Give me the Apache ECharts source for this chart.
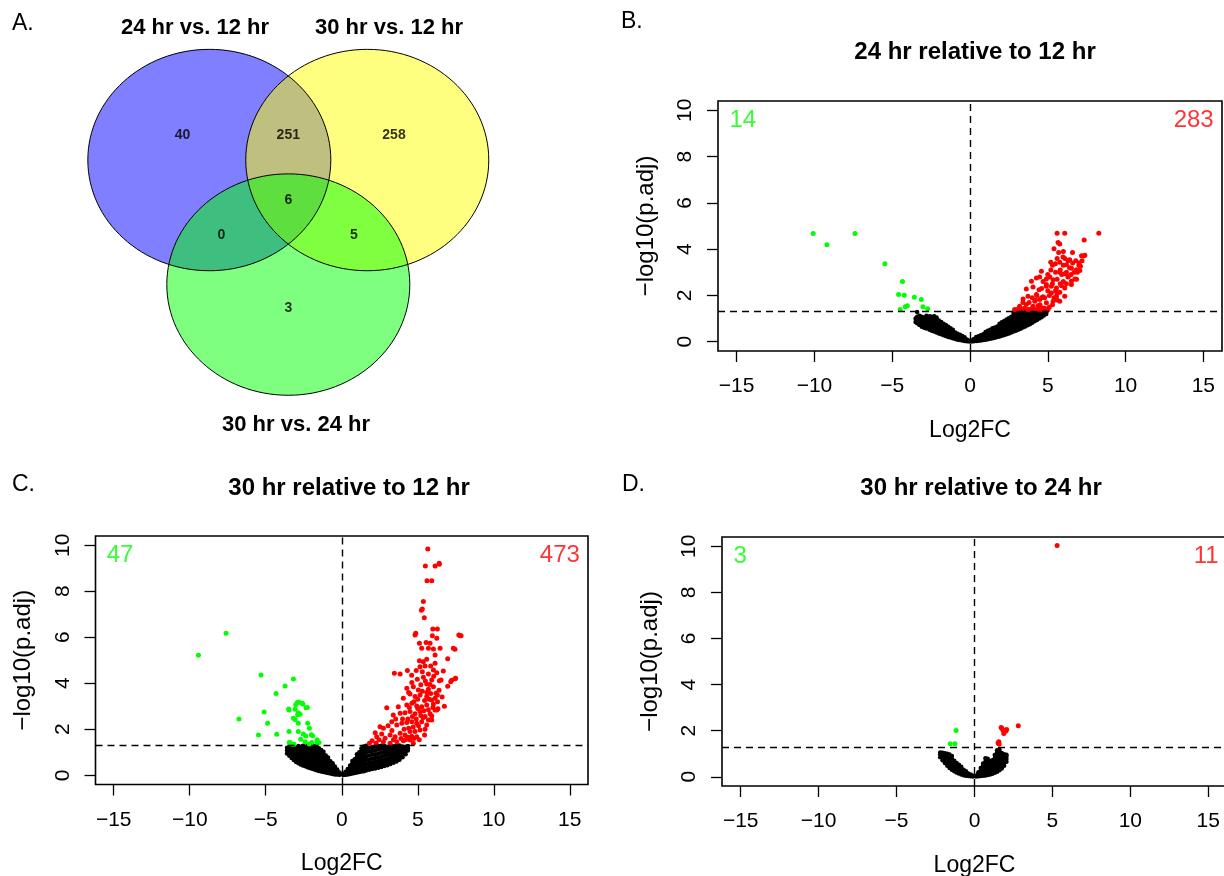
<!DOCTYPE html>
<html>
<head>
<meta charset="utf-8">
<title>Venn + volcano plots</title>
<script src="https://cdn.jsdelivr.net/npm/echarts@6/dist/echarts.min.js"></script>
<style>
    html, body { margin: 0; padding: 0; background: #fff; }
    #chart { width: 1224px; height: 876px; }
</style>
</head>
<body>
<div id="chart"></div>
<script>
// ---- Venn (panel A) ----
const vennSets = ['24 hr vs. 12 hr', '30 hr vs. 12 hr', '30 hr vs. 24 hr'];
// centre x, centre y, radius (venn units)
const vennCircles = [[-0.65, 0.375, 1], [0.65, 0.375, 1], [0, -0.75, 1]];
const vennCounts = [40, 251, 258, 6, 0, 5, 3];
const vennCountAt = [[-0.87, 0.6], [0, 0.6], [0.87, 0.6], [0, 0.01], [-0.55, -0.3], [0.54, -0.3], [0, -0.96]];

// ---- volcano plots ----
const xTicks = [-15, -10, -5, 0, 5, 10, 15];
const yTicks = [0, 2, 4, 6, 8, 10];
const pCut = 1.301; // -log10(0.05)
const countX = [-15.5, 15.7];
const countY = 9.57;

// B: 24 hr relative to 12 hr
const downB = [[-10.08, 4.68], [-9.2, 4.19], [-7.39, 4.68], [-5.47, 3.37], [-4.34, 2.6], [-4.59, 2.04], [-4.23, 2.01],
    [-3.58, 1.92], [-3.13, 1.82], [-4.49, 1.39], [-4.16, 1.51], [-4.03, 1.56], [-3.03, 1.51], [-2.72, 1.42]];
const upB = [[5.6, 4.69], [6.09, 4.69], [8.28, 4.69], [5.66, 4.29], [5.77, 4.22], [7.34, 4.4], [5.4, 4.02], [5.98, 3.66],
    [6.59, 3.86], [7.17, 3.72], [7.38, 3.74], [6.41, 3.54], [5.19, 3.43], [5.49, 3.37], [5.77, 3.43], [6.2, 3.33],
    [7.01, 3.4], [7.1, 3.26], [4.59, 3.04], [6.52, 3.18], [6.84, 3.11], [7.06, 3.08], [5.77, 3.0], [6.09, 2.94],
    [4.27, 2.75], [4.48, 2.8], [4.91, 2.71], [5.13, 2.8], [5.34, 2.68], [3.95, 2.61], [6.31, 2.82], [6.52, 2.61],
    [6.74, 2.71], [3.62, 2.28], [4.05, 2.37], [4.44, 2.25], [6.52, 2.47], [4.91, 2.47], [5.23, 2.4], [5.56, 2.32],
    [5.88, 2.42], [6.09, 2.32], [3.73, 1.96], [4.27, 2.04], [4.69, 1.94], [5.23, 2.11], [5.56, 1.96], [5.77, 2.14],
    [6.09, 1.96], [3.41, 1.85], [4.16, 1.75], [4.48, 1.82], [4.91, 1.68], [5.34, 1.75], [5.77, 1.75], [3.19, 1.53],
    [3.62, 1.61], [4.05, 1.53], [4.37, 1.56], [4.69, 1.46], [2.87, 1.39], [3.3, 1.39], [3.73, 1.39], [4.16, 1.39],
    [4.59, 1.39], [5.02, 1.39], [4.5, 1.6], [4.8, 1.9], [5.0, 2.2], [5.3, 2.5], [5.6, 2.7], [5.9, 2.9], [6.2, 3.0],
    [6.4, 3.2], [6.6, 3.4], [6.8, 3.5], [5.5, 2.2], [5.8, 2.5], [6.0, 2.6], [6.3, 2.8], [6.7, 3.0], [7.0, 3.3],
    [6.9, 3.0], [4.0, 1.9], [4.3, 2.0], [4.6, 2.3], [4.7, 2.6], [5.0, 2.9], [5.2, 3.1], [5.5, 3.0], [5.8, 3.1],
    [6.0, 3.3], [6.3, 3.5], [6.0, 3.9], [5.6, 3.6], [5.3, 3.3], [4.9, 2.4], [5.1, 2.0], [5.4, 1.9], [5.6, 2.1],
    [4.4, 1.4], [4.8, 1.45], [5.1, 1.5], [5.3, 1.6], [5.6, 1.8], [3.9, 1.4], [3.5, 1.45], [3.1, 1.42], [3.4, 1.7],
    [3.8, 1.7], [4.2, 1.8], [4.6, 1.9], [6.2, 2.5], [6.5, 2.9], [6.85, 2.7], [7.2, 3.5], [7.3, 3.7], [6.1, 3.6], [5.7, 3.85]];
// not significant, listed per Log2FC column: [x, [y...]]
const nsB = [
    [-3.5, [0.85, 1.0]], [-3.4, [0.8, 0.95, 1.08, 1.28]], [-3.25, [0.72, 0.88, 1.02, 1.12]], [-3.1, [0.65, 0.8, 0.95, 1.08]],
    [-2.95, [0.6, 0.75, 0.9, 1.05]], [-2.8, [0.57, 0.72, 0.87, 1.02, 1.12]], [-2.6, [0.52, 0.67, 0.82, 0.97, 1.1]],
    [-2.45, [0.47, 0.62, 0.78, 0.93, 1.08]], [-2.3, [0.44, 0.58, 0.72, 0.86, 1.0, 1.1]], [-2.15, [0.4, 0.54, 0.68, 0.82, 0.97, 1.05]],
    [-2.0, [0.36, 0.5, 0.64, 0.78, 0.92]], [-1.85, [0.32, 0.45, 0.58, 0.72, 0.85]], [-1.7, [0.28, 0.4, 0.52, 0.65, 0.78]],
    [-1.55, [0.25, 0.36, 0.48, 0.6, 0.72]], [-1.4, [0.21, 0.32, 0.43, 0.55, 0.65]], [-1.25, [0.18, 0.28, 0.38, 0.5, 0.58]],
    [-1.1, [0.15, 0.24, 0.34, 0.44, 0.52]], [-0.95, [0.12, 0.2, 0.3, 0.4]], [-0.8, [0.09, 0.17, 0.26, 0.35]],
    [-0.65, [0.07, 0.14, 0.22, 0.3]], [-0.5, [0.05, 0.11, 0.18, 0.25]], [-0.35, [0.03, 0.08, 0.14, 0.19]],
    [-0.2, [0.02, 0.06, 0.1]], [-0.05, [0.01, 0.04]],
    [0.1, [0.01, 0.05]], [0.25, [0.02, 0.07, 0.12]], [0.4, [0.03, 0.09, 0.15, 0.2]], [0.55, [0.04, 0.1, 0.17, 0.24]],
    [0.7, [0.05, 0.12, 0.2, 0.28]], [0.85, [0.07, 0.15, 0.23, 0.32]], [1.0, [0.09, 0.17, 0.26, 0.36, 0.42]],
    [1.15, [0.11, 0.2, 0.29, 0.38, 0.47]], [1.3, [0.13, 0.22, 0.32, 0.42, 0.52]], [1.45, [0.15, 0.25, 0.35, 0.46, 0.58]],
    [1.6, [0.17, 0.28, 0.39, 0.5, 0.62]], [1.75, [0.2, 0.31, 0.42, 0.54, 0.66]], [1.9, [0.23, 0.34, 0.46, 0.58, 0.7, 0.78]],
    [2.05, [0.26, 0.38, 0.5, 0.62, 0.74, 0.84]], [2.2, [0.29, 0.41, 0.53, 0.65, 0.78, 0.9]],
    [2.35, [0.32, 0.44, 0.57, 0.7, 0.83, 0.96]], [2.5, [0.36, 0.48, 0.61, 0.74, 0.88, 1.02]],
    [2.65, [0.4, 0.52, 0.65, 0.79, 0.93, 1.08]], [2.8, [0.44, 0.56, 0.69, 0.83, 0.98, 1.14, 1.26]],
    [2.95, [0.48, 0.6, 0.73, 0.87, 1.02, 1.17, 1.28]], [3.1, [0.52, 0.64, 0.77, 0.91, 1.05, 1.2, 1.29]],
    [3.25, [0.56, 0.68, 0.81, 0.95, 1.09, 1.22]], [3.4, [0.61, 0.73, 0.86, 0.99, 1.12, 1.25]],
    [3.55, [0.66, 0.78, 0.9, 1.03, 1.16, 1.28]], [3.7, [0.71, 0.83, 0.95, 1.07, 1.19, 1.29]],
    [3.85, [0.76, 0.88, 1.0, 1.12, 1.23]], [4.0, [0.82, 0.94, 1.05, 1.16, 1.27]], [4.15, [0.88, 0.99, 1.1, 1.2, 1.29]],
    [4.3, [0.94, 1.04, 1.14, 1.24]], [4.45, [1.0, 1.1, 1.2, 1.28]], [4.6, [1.06, 1.16, 1.26]],
    [4.75, [1.13, 1.22, 1.29]], [4.9, [1.2, 1.27]]
];

// C: 30 hr relative to 12 hr
const downC = [[-7.61, 6.17], [-9.43, 5.22], [-5.31, 4.36], [-3.18, 4.19], [-3.73, 3.88], [-4.32, 3.56], [-6.76, 2.45],
    [-5.11, 2.75], [-4.88, 2.26], [-5.48, 1.75], [-4.28, 1.78], [-2.92, 3.16], [-2.59, 3.13], [-2.35, 2.94],
    [-3.07, 2.87], [-2.86, 2.72], [-2.74, 2.65], [-3.47, 2.84], [-3.18, 2.48], [-3.07, 2.43], [-2.86, 2.26],
    [-2.24, 2.26], [-2.13, 2.04], [-3.47, 1.9], [-2.86, 1.9], [-2.53, 1.8], [-2.37, 1.71], [-1.91, 1.72],
    [-2.7, 1.57], [-2.41, 1.46], [-3.4, 1.42], [-3.14, 1.35], [-1.97, 1.42], [-1.64, 1.46], [-2.13, 1.36],
    [-1.59, 1.39], [-3.46, 1.42], [-3.28, 1.35], [-2.0, 1.76], [-1.62, 1.54], [-1.49, 1.42], [-2.82, 3.18],
    [-2.56, 3.1], [-3.03, 3.07], [-2.26, 2.95], [-3.49, 2.88], [-2.9, 2.63]];
const upC = [[5.66, 9.83], [5.5, 9.1], [6.14, 9.1], [6.42, 9.17], [5.61, 8.46], [5.92, 8.46], [5.37, 7.55], [5.3, 7.23],
    [5.24, 7.17], [5.43, 6.85], [4.87, 6.17], [4.82, 6.1], [5.99, 6.36], [6.29, 6.36], [6.25, 5.96], [5.96, 6.06],
    [7.78, 6.07], [7.7, 6.1], [7.85, 6.06], [5.11, 5.74], [5.55, 5.77], [5.26, 5.52], [6.03, 5.49], [6.47, 5.52],
    [6.14, 5.23], [5.81, 5.74], [5.7, 5.52], [7.34, 5.52], [7.45, 5.48], [6.97, 5.06], [5.11, 4.98], [5.37, 4.93],
    [5.59, 5.04], [5.15, 4.72], [5.48, 4.75], [6.14, 4.87], [6.03, 4.58], [5.7, 4.4], [6.25, 4.46], [6.68, 4.53],
    [3.46, 4.43], [3.84, 4.4], [4.32, 4.55], [7.17, 4.07], [7.45, 4.2], [4.61, 4.03], [4.97, 4.17], [5.37, 4.26],
    [5.2, 3.93], [5.59, 3.97], [5.92, 4.14], [6.42, 4.11], [6.53, 4.14], [4.28, 3.78], [4.71, 3.85], [5.04, 3.71],
    [5.7, 3.74], [6.03, 3.85], [6.2, 3.57], [4.49, 3.53], [4.82, 3.42], [5.15, 3.49], [5.59, 3.42], [5.92, 3.27],
    [6.14, 3.35], [6.29, 3.49], [3.72, 2.98], [4.28, 3.06], [4.61, 3.13], [4.93, 3.01], [5.26, 2.98], [5.59, 3.06],
    [6.03, 3.1], [2.96, 2.94], [3.39, 2.62], [3.84, 2.7], [4.16, 2.72], [4.49, 2.77], [4.82, 2.67], [5.15, 2.77],
    [5.48, 2.55], [5.81, 2.67], [6.14, 2.84], [6.25, 2.84], [5.92, 2.58], [2.52, 2.11], [2.74, 2.04], [3.29, 2.33],
    [3.62, 2.19], [3.95, 2.26], [4.28, 2.29], [4.61, 2.33], [4.93, 2.26], [5.26, 2.33], [5.59, 2.19], [5.92, 2.4],
    [2.3, 1.68], [2.63, 1.8], [2.85, 1.61], [3.18, 1.75], [3.51, 1.68], [3.84, 1.83], [4.16, 1.75], [4.49, 1.9],
    [4.82, 1.9], [5.15, 1.97], [5.48, 2.0], [1.82, 1.39], [2.26, 1.39], [2.74, 1.46], [3.18, 1.39], [3.62, 1.46],
    [4.05, 1.5], [4.49, 1.53], [4.71, 1.39], [4.93, 1.68], [6.41, 9.22], [7.23, 4.13], [7.49, 4.22], [6.33, 2.89],
    [6.97, 3.87], [3.9, 1.6], [4.2, 1.55], [4.35, 1.65], [4.6, 1.7], [4.75, 1.6], [4.1, 2.0], [4.4, 2.05], [4.7, 2.1],
    [4.9, 2.45], [5.05, 2.15], [5.35, 2.5], [5.2, 2.6], [4.65, 2.55], [4.35, 2.45], [4.0, 2.45], [5.0, 2.9],
    [5.4, 2.8], [5.7, 2.85], [5.75, 3.3], [5.45, 3.25], [5.3, 3.65], [5.0, 3.3], [4.75, 3.2], [5.6, 3.6], [5.85, 3.55],
    [5.5, 4.1], [5.8, 3.95], [6.05, 4.3], [5.3, 4.5], [5.85, 4.75], [4.45, 2.95], [3.55, 2.45], [3.3, 1.95],
    [3.05, 2.15], [5.7, 2.4], [6.0, 2.95], [6.3, 3.2], [6.4, 3.7], [6.6, 3.4], [6.75, 3.0], [5.45, 1.75], [5.1, 1.55],
    [2.45, 1.55], [2.0, 1.5], [3.4, 1.55], [2.2, 1.85], [4.05, 3.35], [4.4, 3.6], [4.9, 4.55], [4.6, 4.35]];
const nsC = [
    [-3.6, [0.95, 1.08, 1.2]], [-3.45, [0.85, 0.98, 1.1, 1.22]], [-3.3, [0.75, 0.88, 1.0, 1.12, 1.25]],
    [-3.15, [0.66, 0.79, 0.92, 1.05, 1.18, 1.28]], [-3.0, [0.58, 0.7, 0.83, 0.96, 1.09, 1.22]],
    [-2.85, [0.52, 0.64, 0.76, 0.89, 1.02, 1.15, 1.27]], [-2.7, [0.47, 0.59, 0.71, 0.84, 0.97, 1.1, 1.22]],
    [-2.55, [0.43, 0.54, 0.66, 0.78, 0.9, 1.03, 1.16, 1.28]], [-2.4, [0.39, 0.5, 0.62, 0.74, 0.86, 0.98, 1.1, 1.22]],
    [-2.25, [0.35, 0.46, 0.57, 0.69, 0.81, 0.93, 1.05, 1.18, 1.28]], [-2.1, [0.32, 0.42, 0.53, 0.64, 0.76, 0.88, 1.0, 1.12, 1.24]],
    [-1.95, [0.28, 0.38, 0.49, 0.6, 0.71, 0.83, 0.95, 1.07, 1.2]], [-1.8, [0.25, 0.35, 0.45, 0.55, 0.66, 0.78, 0.9, 1.02, 1.15, 1.27]],
    [-1.65, [0.22, 0.31, 0.41, 0.51, 0.62, 0.73, 0.85, 0.97, 1.1, 1.22]], [-1.5, [0.19, 0.28, 0.37, 0.47, 0.57, 0.68, 0.8, 0.92, 1.05, 1.18]],
    [-1.35, [0.16, 0.25, 0.34, 0.43, 0.53, 0.63, 0.74, 0.86, 0.98, 1.1]], [-1.2, [0.14, 0.22, 0.3, 0.39, 0.48, 0.58, 0.68, 0.8, 0.92, 1.02]],
    [-1.05, [0.12, 0.19, 0.27, 0.35, 0.44, 0.53, 0.63, 0.74, 0.86]], [-0.9, [0.1, 0.16, 0.24, 0.31, 0.39, 0.48, 0.58, 0.68, 0.77]],
    [-0.75, [0.08, 0.14, 0.2, 0.27, 0.35, 0.43, 0.52, 0.61]], [-0.6, [0.06, 0.11, 0.17, 0.23, 0.3, 0.37, 0.45, 0.52]],
    [-0.45, [0.04, 0.09, 0.14, 0.19, 0.25, 0.31, 0.38]], [-0.3, [0.03, 0.07, 0.11, 0.15, 0.2, 0.25]], [-0.15, [0.02, 0.05, 0.08, 0.12]],
    [0.1, [0.01, 0.06]], [0.25, [0.02, 0.08, 0.15]], [0.4, [0.04, 0.11, 0.19, 0.27]], [0.55, [0.06, 0.14, 0.23, 0.33, 0.43]],
    [0.7, [0.08, 0.17, 0.27, 0.38, 0.5, 0.62]], [0.85, [0.1, 0.2, 0.31, 0.43, 0.56, 0.7]],
    [1.0, [0.12, 0.23, 0.35, 0.48, 0.62, 0.78, 0.92]], [1.15, [0.14, 0.26, 0.39, 0.53, 0.68, 0.84, 1.0]],
    [1.3, [0.16, 0.29, 0.43, 0.58, 0.74, 0.9, 1.06, 1.18]], [1.45, [0.18, 0.32, 0.47, 0.63, 0.8, 0.97, 1.13, 1.25]],
    [1.6, [0.21, 0.35, 0.5, 0.66, 0.83, 1.0, 1.17, 1.28]], [1.8, [0.24, 0.38, 0.53, 0.69, 0.86, 1.03, 1.2]],
    [2.0, [0.27, 0.41, 0.56, 0.72, 0.89, 1.06, 1.22]], [2.2, [0.3, 0.44, 0.59, 0.75, 0.92, 1.09, 1.25]],
    [2.4, [0.33, 0.47, 0.62, 0.78, 0.95, 1.12, 1.27]], [2.6, [0.36, 0.5, 0.65, 0.81, 0.98, 1.15, 1.28]],
    [2.8, [0.4, 0.54, 0.69, 0.85, 1.01, 1.17, 1.28]], [3.0, [0.44, 0.58, 0.73, 0.89, 1.05, 1.2]],
    [3.2, [0.49, 0.63, 0.78, 0.93, 1.08, 1.23]], [3.4, [0.54, 0.68, 0.83, 0.98, 1.12, 1.26]],
    [3.6, [0.6, 0.74, 0.88, 1.02, 1.16, 1.28]], [3.8, [0.68, 0.81, 0.94, 1.07, 1.2, 1.29]],
    [4.0, [0.78, 0.9, 1.02, 1.14, 1.25]], [4.2, [0.92, 1.03, 1.14, 1.24]], [4.35, [1.08, 1.18, 1.27]]
];

// D: 30 hr relative to 24 hr
const downD = [[-1.18, 2.01], [-1.56, 1.43], [-1.26, 1.43]];
const upD = [[5.3, 10.03], [2.81, 2.21], [1.71, 2.14], [1.76, 2.1], [1.83, 2.02], [2.01, 1.99], [2.06, 2.05],
    [1.88, 1.88], [1.56, 1.52], [1.58, 1.42], [1.51, 1.47]];
const nsD = [
    [-2.2, [0.85, 0.98, 1.05]], [-2.05, [0.72, 0.85, 0.98, 1.04]], [-1.9, [0.6, 0.72, 0.85, 0.97, 1.02]],
    [-1.75, [0.48, 0.6, 0.72, 0.84, 0.95, 1.0]], [-1.6, [0.38, 0.5, 0.62, 0.74, 0.86, 0.97]],
    [-1.45, [0.3, 0.42, 0.54, 0.66, 0.78, 0.9]], [-1.3, [0.24, 0.35, 0.46, 0.58, 0.7]],
    [-1.15, [0.19, 0.29, 0.39, 0.5, 0.6]], [-1.0, [0.14, 0.23, 0.33, 0.43, 0.52]], [-0.85, [0.1, 0.18, 0.27, 0.36, 0.44]],
    [-0.7, [0.07, 0.14, 0.22, 0.3]], [-0.55, [0.05, 0.11, 0.18, 0.24]], [-0.4, [0.03, 0.08, 0.14]],
    [-0.25, [0.02, 0.06, 0.1]], [-0.1, [0.01, 0.04]],
    [0.1, [0.01, 0.05]], [0.25, [0.02, 0.07, 0.13, 0.2]], [0.4, [0.03, 0.09, 0.17, 0.27, 0.38]],
    [0.55, [0.04, 0.11, 0.2, 0.32, 0.46, 0.58]], [0.7, [0.06, 0.14, 0.24, 0.36, 0.5, 0.65, 0.8]],
    [0.85, [0.08, 0.17, 0.28, 0.4, 0.53, 0.66, 0.78]], [1.0, [0.1, 0.2, 0.32, 0.44, 0.56, 0.68]],
    [1.15, [0.13, 0.24, 0.36, 0.48, 0.6, 0.72]], [1.3, [0.17, 0.28, 0.4, 0.52, 0.65, 0.8, 0.95]],
    [1.45, [0.22, 0.33, 0.45, 0.58, 0.72, 0.88, 1.05, 1.15]], [1.6, [0.28, 0.4, 0.52, 0.66, 0.8, 0.95, 1.1, 1.18]],
    [1.75, [0.36, 0.48, 0.62, 0.76, 0.9, 1.03]], [1.9, [0.48, 0.6, 0.74, 0.88, 0.98]], [2.05, [0.65, 0.78, 0.9, 0.96]]
];

const countsB = [14, 283];
const countsC = [47, 473];
const countsD = [3, 11];

// columns -> [x, y] pairs
function flatCols(cols) {
    const out = [];
    cols.forEach(function (c) {
        c[1].forEach(function (y) { out.push([c[0], y]); });
    });
    return out;
}

const FONT = '"Liberation Sans", Arial, Helvetica, sans-serif';
const GREEN = '#00ff00';
const RED = '#ff0000';

function fmtTick(v) {
    return v < 0 ? '\u2212' + Math.abs(v) : String(v);
}

function volcanoAxes(gi) {
    const x = {
        type: 'value', gridIndex: gi, min: -16.2, max: 16.2,
        axisLine: { show: false, onZero: false }, splitLine: { show: false },
        axisTick: { show: true, length: 11, customValues: xTicks, lineStyle: { color: '#000', width: 1.3 } },
        axisLabel: { customValues: xTicks, formatter: fmtTick, fontSize: 21, color: '#000', margin: 25, fontFamily: FONT },
        name: 'Log2FC', nameLocation: 'middle', nameGap: 68,
        nameTextStyle: { fontSize: 23, color: '#000', fontFamily: FONT }
    };
    const y = {
        type: 'value', gridIndex: gi, min: -0.4, max: 10.4,
        axisLine: { show: false, onZero: false }, splitLine: { show: false },
        axisTick: { show: true, length: 11, customValues: yTicks, lineStyle: { color: '#000', width: 1.3 } },
        axisLabel: { customValues: yTicks, rotate: 90, fontSize: 21, color: '#000', margin: 22, fontFamily: FONT },
        name: '\u2212log10(p.adj)', nameLocation: 'middle', nameGap: 60,
        nameTextStyle: { fontSize: 24, color: '#000', fontFamily: FONT }
    };
    return [x, y];
}

function volcanoSeries(ai, ns, down, up, counts) {
    const dot = function (data, color, size, withLines) {
        const s = {
            type: 'scatter', xAxisIndex: ai, yAxisIndex: ai, data: data,
            symbol: 'circle', symbolSize: size, itemStyle: { color: color, opacity: 1 },
            silent: true
        };
        if (withLines) {
            s.markLine = {
                silent: true, symbol: 'none', label: { show: false },
                lineStyle: { color: '#000', type: [7, 5], width: 1.4 },
                data: [{ xAxis: 0 }, { yAxis: pCut }]
            };
        }
        return s;
    };
    const countLabel = function (i, color) {
        return {
            type: 'scatter', xAxisIndex: ai, yAxisIndex: ai, silent: true,
            data: [[countX[i], countY, counts[i]]], symbolSize: 1,
            itemStyle: { color: 'rgba(0,0,0,0)' },
            label: {
                show: true, position: i === 0 ? 'right' : 'left', distance: 0,
                formatter: function (p) { return p.value[2]; },
                color: color, fontSize: 24, fontFamily: FONT
            }
        };
    };
    return [
        dot(flatCols(ns), '#000', 4.5, true),
        dot(down, GREEN, 5, false),
        dot(up, RED, 5, false),
        countLabel(0, GREEN),
        countLabel(1, RED)
    ];
}

const vennFills = ['rgba(0,0,255,0.5)', 'rgba(255,255,0,0.5)', 'rgba(0,255,0,0.5)'];

function vennRender(fill) {
    return function (params, api) {
        const c = api.coord([api.value(0), api.value(1)]);
        const s = api.size([api.value(2), api.value(2)]);
        return {
            type: 'ellipse',
            shape: { cx: c[0], cy: c[1], rx: s[0], ry: s[1] },
            style: fill
                ? { fill: vennFills[params.dataIndex], stroke: null }
                : { fill: null, stroke: '#000', lineWidth: 1 }
        };
    };
}

const chart = echarts.init(document.getElementById('chart'));

const axB = volcanoAxes(1), axC = volcanoAxes(2), axD = volcanoAxes(3);

function txt(t, x, y, size, bold, align) {
    return {
        type: 'text', x: x, y: y, silent: true,
        style: {
            text: t, fill: '#000', align: align || 'center', verticalAlign: 'middle',
            font: (bold ? 'bold ' : '') + size + 'px ' + FONT
        }
    };
}

const option = {
    animation: false,
    backgroundColor: '#fff',
    textStyle: { fontFamily: FONT },
    grid: [
        { left: 45.3, top: 2.3, width: 486, height: 398.5, show: false, outerBoundsMode: 'none' },
        { left: 718, top: 101, width: 504, height: 250, show: true, borderColor: '#000', borderWidth: 1.6, backgroundColor: 'transparent', outerBoundsMode: 'none' },
        { left: 95.5, top: 536, width: 492.5, height: 248.5, show: true, borderColor: '#000', borderWidth: 1.6, backgroundColor: 'transparent', outerBoundsMode: 'none' },
        { left: 722, top: 537, width: 505, height: 249, show: true, borderColor: '#000', borderWidth: 1.6, backgroundColor: 'transparent', outerBoundsMode: 'none' }
    ],
    xAxis: [
        { type: 'value', gridIndex: 0, min: -2, max: 2, show: false },
        axB[0], axC[0], axD[0]
    ],
    yAxis: [
        { type: 'value', gridIndex: 0, min: -1.8, max: 1.8, show: false },
        axB[1], axC[1], axD[1]
    ],
    graphic: [
        txt('A.', 12, 24, 23, false, 'left'),
        txt('B.', 621, 22, 23, false, 'left'),
        txt('C.', 12, 485, 23, false, 'left'),
        txt('D.', 622, 485, 23, false, 'left'),
        txt(vennSets[0], 195, 28, 22, true),
        txt(vennSets[1], 389, 28, 22, true),
        txt(vennSets[2], 296, 425, 22, true),
        txt('24 hr relative to 12 hr', 975, 52, 24, true),
        txt('30 hr relative to 12 hr', 349, 488, 24, true),
        txt('30 hr relative to 24 hr', 981, 488, 24, true)
    ],
    series: [
        { type: 'custom', xAxisIndex: 0, yAxisIndex: 0, data: vennCircles, renderItem: vennRender(true), silent: true, clip: false },
        { type: 'custom', xAxisIndex: 0, yAxisIndex: 0, data: vennCircles, renderItem: vennRender(false), silent: true, clip: false },
        {
            type: 'scatter', xAxisIndex: 0, yAxisIndex: 0, silent: true, symbolSize: 1,
            itemStyle: { color: 'rgba(0,0,0,0)' },
            data: vennCountAt.map(function (p, i) { return [p[0], p[1], vennCounts[i]]; }),
            label: {
                show: true, position: 'inside', formatter: function (p) { return p.value[2]; },
                color: '#000', fontSize: 14, fontWeight: 'bold', fontFamily: FONT
            }
        }
    ]
        .concat(volcanoSeries(1, nsB, downB, upB, countsB))
        .concat(volcanoSeries(2, nsC, downC, upC, countsC))
        .concat(volcanoSeries(3, nsD, downD, upD, countsD))
};

chart.setOption(option);
window.addEventListener('resize', function () { chart.resize(); });
</script>
</body>
</html>
